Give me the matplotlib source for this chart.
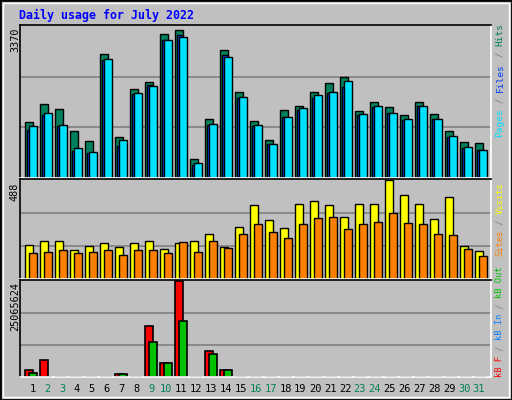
import matplotlib
matplotlib.use("Agg")
import matplotlib.pyplot as plt
from matplotlib.patches import Rectangle

days = list(range(1, 32))
hits = [1252,1630,1541,1052,830,2741,918,1963,2118,3185,3274,430,1318,2830,1896,1274,852,1518,1607,1896,2096,2230,1496,1696,1585,1407,1696,1430,1052,807,785]
files = [1074,1407,1163,607,563,2607,718,1852,2052,3052,3163,296,1185,2718,1763,1163,756,1363,1518,1785,1874,2007,1407,1585,1452,1296,1607,1318,918,674,630]
pages = [1163,1452,1185,674,585,2630,852,1874,2030,3052,3118,341,1207,2674,1807,1185,763,1363,1563,1830,1918,2141,1430,1607,1452,1318,1607,1318,941,696,630]
visits = [170,186,186,143,164,175,159,175,186,149,175,186,223,159,255,366,292,249,371,382,366,308,371,371,488,414,371,297,403,164,138]
sites = [127,133,143,127,133,143,117,143,143,127,180,133,186,154,223,270,233,202,270,302,308,244,270,281,324,276,270,223,217,149,111]
kb_f = [1930000,4410000,0,0,0,0,830000,0,13200000,3580000,25065624,0,6890000,1930000]+[0]*17
kb_out = [1100000,0,0,0,0,0,830000,0,9090000,3580000,14600000,0,6060000,1930000]+[0]*17
weekend = {2,3,9,10,16,17,23,24,30,31}
top_max, mid_max, bot_max = 3370, 488, 25065624

W, H = 512, 400
fig = plt.figure(figsize=(5.12, 4.0), dpi=100, facecolor="#C0C0C0")
BG = "#C0C0C0"
mono = "DejaVu Sans Mono"

def ax_px(x0, y0, x1, y1):
    return fig.add_axes([x0 / W, 1 - y1 / H, (x1 - x0) / W, (y1 - y0) / H])

def style(ax, ymax):
    ax.set_facecolor(BG)
    ax.set_xlim(0, 31.4)
    ax.set_ylim(0, ymax * 1.01)
    ax.set_xticks([]); ax.set_yticks([])
    for f in (1/3, 2/3):
        ax.axhline(ymax * f, color="#808080", lw=1.2, zorder=0)
    ax.spines["left"].set_color("black"); ax.spines["top"].set_color("black")
    ax.spines["right"].set_color("white"); ax.spines["bottom"].set_color("white")
    for s in ax.spines.values():
        s.set_linewidth(1.2)

x0 = [d - 1 for d in days]
ax1 = ax_px(20, 24.5, 491, 178)
style(ax1, top_max)
ax1.bar([x + 0.35 for x in x0], hits, width=0.49, align="edge", color="#00805C", edgecolor="black", lw=1)
ax1.bar([x + 0.47 for x in x0], files, width=0.42, align="edge", color="#0040FF", edgecolor="black", lw=1)
ax1.bar([x + 0.6 for x in x0], pages, width=0.53, align="edge", color="#00E0FF", edgecolor="black", lw=1)

ax2 = ax_px(20, 179, 491, 279)
style(ax2, mid_max)
ax2.bar([x + 0.35 for x in x0], visits, width=0.53, align="edge", color="#FFFF00", edgecolor="black", lw=1)
ax2.bar([x + 0.6 for x in x0], sites, width=0.51, align="edge", color="#FF8000", edgecolor="black", lw=1)

ax3 = ax_px(20, 280, 491, 377)
style(ax3, bot_max)
ax3.bar([x + 0.35 for x in x0], kb_f, width=0.49, align="edge", color="#FF0000", edgecolor="black", lw=1.2)
ax3.bar([x + 0.6 for x in x0], kb_out, width=0.53, align="edge", color="#00C000", edgecolor="black", lw=1.2)
# zero-valued bars render as flat black dashes
dash = bot_max * 0.012
ax3.bar([x + 0.35 for x, v in zip(x0, kb_f) if v == 0], [dash] * kb_f.count(0), width=0.49,
        align="edge", color="black", lw=0)
ax3.bar([x + 0.6 for x, v in zip(x0, kb_out) if v == 0], [dash] * kb_out.count(0), width=0.53,
        align="edge", color="black", lw=0)

for d in days:
    xp = 20 + (d - 1 + 0.83) * 14.89
    fig.text(xp / W, 1 - 389 / H, str(d), ha="center", va="center", family=mono, fontsize=7.5,
             color="#00805C" if d in weekend else "black")

fig.text(19 / W, 1 - 15 / H, "Daily usage for July 2022", ha="left", va="center",
         family=mono, fontsize=8.4, weight="bold", color="#0000FF")

for txt, ytop in (("3370", 28), ("488", 183), ("25065624", 282)):
    fig.text(15 / W, 1 - ytop / H, txt, rotation=90, ha="center", va="top", family=mono, fontsize=7.3, color="black")

def vlabel(parts, ybot, fs=6.3):
    ch = 0.602 * fs * 100 / 72
    y = ybot
    for t, c in parts:
        fig.text(500 / W, 1 - y / H, t, rotation=90, ha="center", va="bottom", family=mono,
                 fontsize=fs, color=c)
        y -= ch * len(t)

vlabel([("Pages", "#00E0FF"), (" / ", "#808080"), ("Files", "#0040FF"), (" / ", "#808080"), ("Hits", "#00805C")], 137, fs=6.8)
vlabel([("Sites", "#FF8000"), (" / ", "#808080"), ("Visits", "#FFFF00")], 256)
vlabel([("kB F", "#FF0000"), (" / ", "#808080"), ("kB In", "#0080FF"), (" / ", "#808080"), ("kB Out", "#00C000")], 377)

fig.patches.append(Rectangle((0, 0), 1, 1, transform=fig.transFigure, fill=False, edgecolor="black", lw=2))
fig.patches.append(Rectangle((3/W, 3/H), 1 - 6/W, 1 - 6/H, transform=fig.transFigure, fill=False, edgecolor="white", lw=1))

fig.savefig("out.png", dpi=100, facecolor=fig.get_facecolor())
